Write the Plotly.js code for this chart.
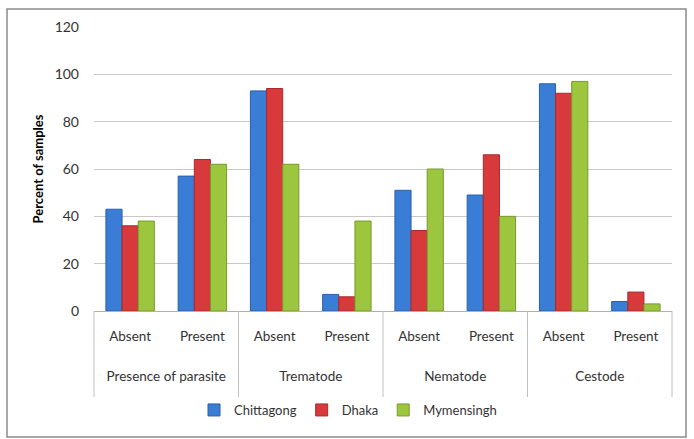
<!DOCTYPE html>
<html>
<head>
<meta charset="utf-8">
<script src="https://cdn.plot.ly/plotly-3.0.1.min.js"></script>
<style>
html,body{margin:0;padding:0;background:#fff;}
#chart{width:694px;height:439px;}
</style>
</head>
<body>
<div id="chart"></div>
<script>
const groups = ["Presence of parasite","Presence of parasite","Trematode","Trematode","Nematode","Nematode","Cestode","Cestode"];
const subcats = ["Absent","Present","Absent","Present","Absent","Present","Absent","Present"];
const chittagong = [43, 57, 93, 7, 51, 49, 96, 4];
const dhaka = [36, 64, 94, 6, 34, 66, 92, 8];
const mymensingh = [38, 62, 62, 38, 60, 40, 97, 3];
const yTicks = [0, 20, 40, 60, 80, 100, 120];

const font = "Lato, 'Open Sans', sans-serif";
// pad the sub-category labels with blank lines so the group row sits lower, as in the reference
const subLabels = subcats.map(s => s + '<br> <br> ');
function mk(name, y, color, line){
  return {type:'bar', name:name, x:[groups, subLabels], y:y,
    marker:{color:color, line:{color:line, width:1}}};
}
const data = [
  mk('Chittagong', chittagong, '#3a7dd6', '#2a5fa8'),
  mk('Dhaka', dhaka, '#d8393b', '#a82a2b'),
  mk('Mymensingh', mymensingh, '#9cc63d', '#78992c')
];
const W = 694, H = 439, L = 94, R = 22, T = 27, B = 128;
const pw = W - L - R, ph = H - T - B;
// group dividers (axis decoration) running down through the label rows
const nGroups = new Set(groups).size;
const dividers = [];
for (let i = 0; i <= nGroups; i++) {
  dividers.push({type:'line', xref:'x domain', yref:'paper', x0:i/nGroups, x1:i/nGroups,
    y0:0, y1:-(397-(H-B))/ph, line:{color:'#c0c0c0', width:1}});
}
const layout = {
  width:W, height:H,
  margin:{l:L, r:R, t:T, b:B, autoexpand:false},
  paper_bgcolor:'#fff', plot_bgcolor:'#fff',
  font:{family:font, size:13, color:'#333'},
  barmode:'group', bargap:0.33, bargroupgap:0,
  showlegend:true,
  legend:{orientation:'h', xref:'container', x:348/W, xanchor:'center', yref:'container', y:(H-410)/H, yanchor:'middle',
    bgcolor:'rgba(0,0,0,0)', font:{size:13, color:'#333'}},
  xaxis:{type:'multicategory', automargin:false, showgrid:false, showline:true, linecolor:'#b0b0b0',
    showdividers:false, ticks:'', ticklabelstandoff:13,
    tickfont:{size:13.5, color:'#333'}},
  yaxis:{range:[0,120], automargin:false, tickvals:yTicks, showgrid:true, gridcolor:'#c8c8c8', zeroline:false,
    showline:false, ticks:'', tickfont:{size:14, color:'#333'}, ticklabelstandoff:14,
    title:{text:'Percent of samples', font:{size:13, color:'#000', weight:'bold'}, standoff:8}},
  shapes:[{type:'rect', xref:'paper', yref:'paper', x0:(7-L)/pw, x1:(686-L)/pw, y0:-(437-(H-B))/ph, y1:((H-B)-9)/ph,
    line:{color:'#8a8a8a', width:1.5}, fillcolor:'rgba(0,0,0,0)', layer:'below'}].concat(dividers)
};
Plotly.newPlot('chart', data, layout, {displayModeBar:false, staticPlot:true});
</script>
</body>
</html>
